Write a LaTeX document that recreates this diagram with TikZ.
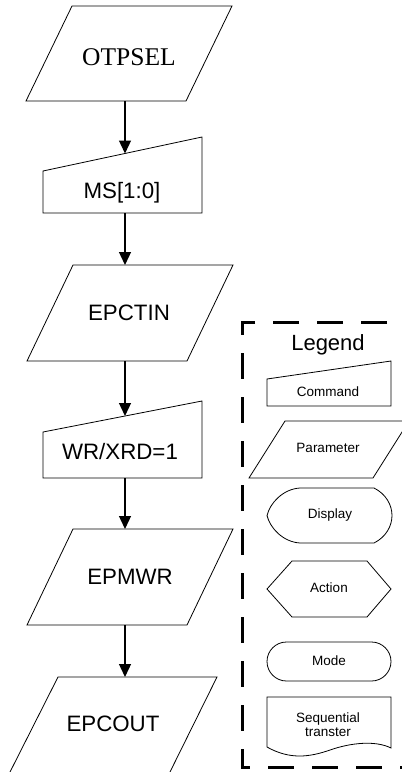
\documentclass[tikz,border=0pt]{standalone}
\usepackage{fontspec}
\setmainfont{Liberation Sans}
\newfontfamily\otpfont{Liberation Serif}
\usepackage{tikz}
\usetikzlibrary{arrows.meta}

\begin{document}
\begin{tikzpicture}[x=1pt, y=-1pt,
    outline/.style={draw=black, line width=0.8pt},
    flow/.style={-{Triangle[width=12pt, length=13pt]}, line width=1.3pt},
    bigtxt/.style={font=\fontsize{22.3}{24}\selectfont, inner sep=0pt},
    smalltxt/.style={font=\fontsize{13.5}{14}\selectfont, inner sep=0pt, align=center}]
    \useasboundingbox (0,0) rectangle (402,772);
    % Flow shapes
    \draw[outline] (72,6) -- (232,6) -- (186,101) -- (26,101) -- cycle;      % OTPSEL
    \draw[outline] (43,171) -- (202,137) -- (202,213) -- (43,213) -- cycle;  % MS[1:0]
    \draw[outline] (73,265) -- (233,265) -- (187,361) -- (27,361) -- cycle;  % EPCTIN
    \draw[outline] (43,432) -- (202,401) -- (202,478) -- (43,478) -- cycle;  % WR/XRD=1
    \draw[outline] (73,529) -- (233,529) -- (187,625) -- (27,625) -- cycle;  % EPMWR
    \draw[outline] (58,677) -- (217,677) -- (168,776) -- (8,776) -- cycle;   % EPCOUT
    % Flow labels
    \node[inner sep=0pt, font=\otpfont\fontsize{25.5}{27}\selectfont] (otpsel) at (129,57) {OTPSEL};
    \node[bigtxt] (ms) at (122,193) {MS[1:0]};
    \node[bigtxt] (epctin) at (129,313) {EPCTIN};
    \node[bigtxt] (wrxrd) at (120,452) {WR/XRD=1};
    \node[bigtxt] (epmwr) at (130,577) {EPMWR};
    \node[bigtxt] (epcout) at (113,724) {EPCOUT};
    % Arrow ends on the shape edges
    \coordinate (otpsel-s) at (125,101);
    \coordinate (ms-n) at (125,153.5);
    \coordinate (ms-s) at (125,213);
    \coordinate (epctin-n) at (125,265);
    \coordinate (epctin-s) at (125,361);
    \coordinate (wrxrd-n) at (125,416);
    \coordinate (wrxrd-s) at (125,478);
    \coordinate (epmwr-n) at (125,529);
    \coordinate (epmwr-s) at (125,625);
    \coordinate (epcout-n) at (125,677);
    \draw[flow] (otpsel-s) -- (ms-n);
    \draw[flow] (ms-s) -- (epctin-n);
    \draw[flow] (epctin-s) -- (wrxrd-n);
    \draw[flow] (wrxrd-s) -- (epmwr-n);
    \draw[flow] (epmwr-s) -- (epcout-n);
    % Legend frame
    \draw[line width=3pt, dash pattern=on 26pt off 18pt, dash phase=21pt] (410,322) -- (242,322) -- (242,767) -- (410,767);
    \node[inner sep=0pt, font=\fontsize{22}{24}\selectfont] (legend) at (328,345) {Legend};
    % Legend shapes
    \draw[outline] (267,379) -- (391,361) -- (391,406) -- (267,406) -- cycle;
    \draw[outline] (285,421) -- (409,421) -- (373,478) -- (249,478) -- cycle;
    \draw[outline] (300,488) -- (374,488) .. controls (386,494) and (392,505) .. (392,515.5)
        .. controls (392,526) and (386,537) .. (374,543) -- (300,543)
        .. controls (283,542) and (270,528) .. (267,515.5)
        .. controls (270,503) and (283,489) .. (300,488) -- cycle;
    \draw[outline] (292,561) -- (367,561) -- (391,589) -- (367,617) -- (292,617) -- (267,589) -- cycle;
    \draw[outline, rounded corners=19.5pt] (267,642) rectangle (391,681);
    \draw[outline] (267,697) -- (391,697) -- (391,748)
        .. controls (375,740) and (350,743) .. (330,750)
        .. controls (310,757) and (290,760) .. (267,747) -- cycle;
    % Legend labels
    \node[smalltxt] (command) at (328,392) {Command};
    \node[smalltxt] (parameter) at (328,448) {Parameter};
    \node[smalltxt] (display) at (330,515) {Display};
    \node[smalltxt] (action) at (329,588) {Action};
    \node[smalltxt] (mode) at (329,661) {Mode};
    \node[smalltxt] (seqtrans) at (328,725) {Sequential\\transter};
\end{tikzpicture}
\end{document}
